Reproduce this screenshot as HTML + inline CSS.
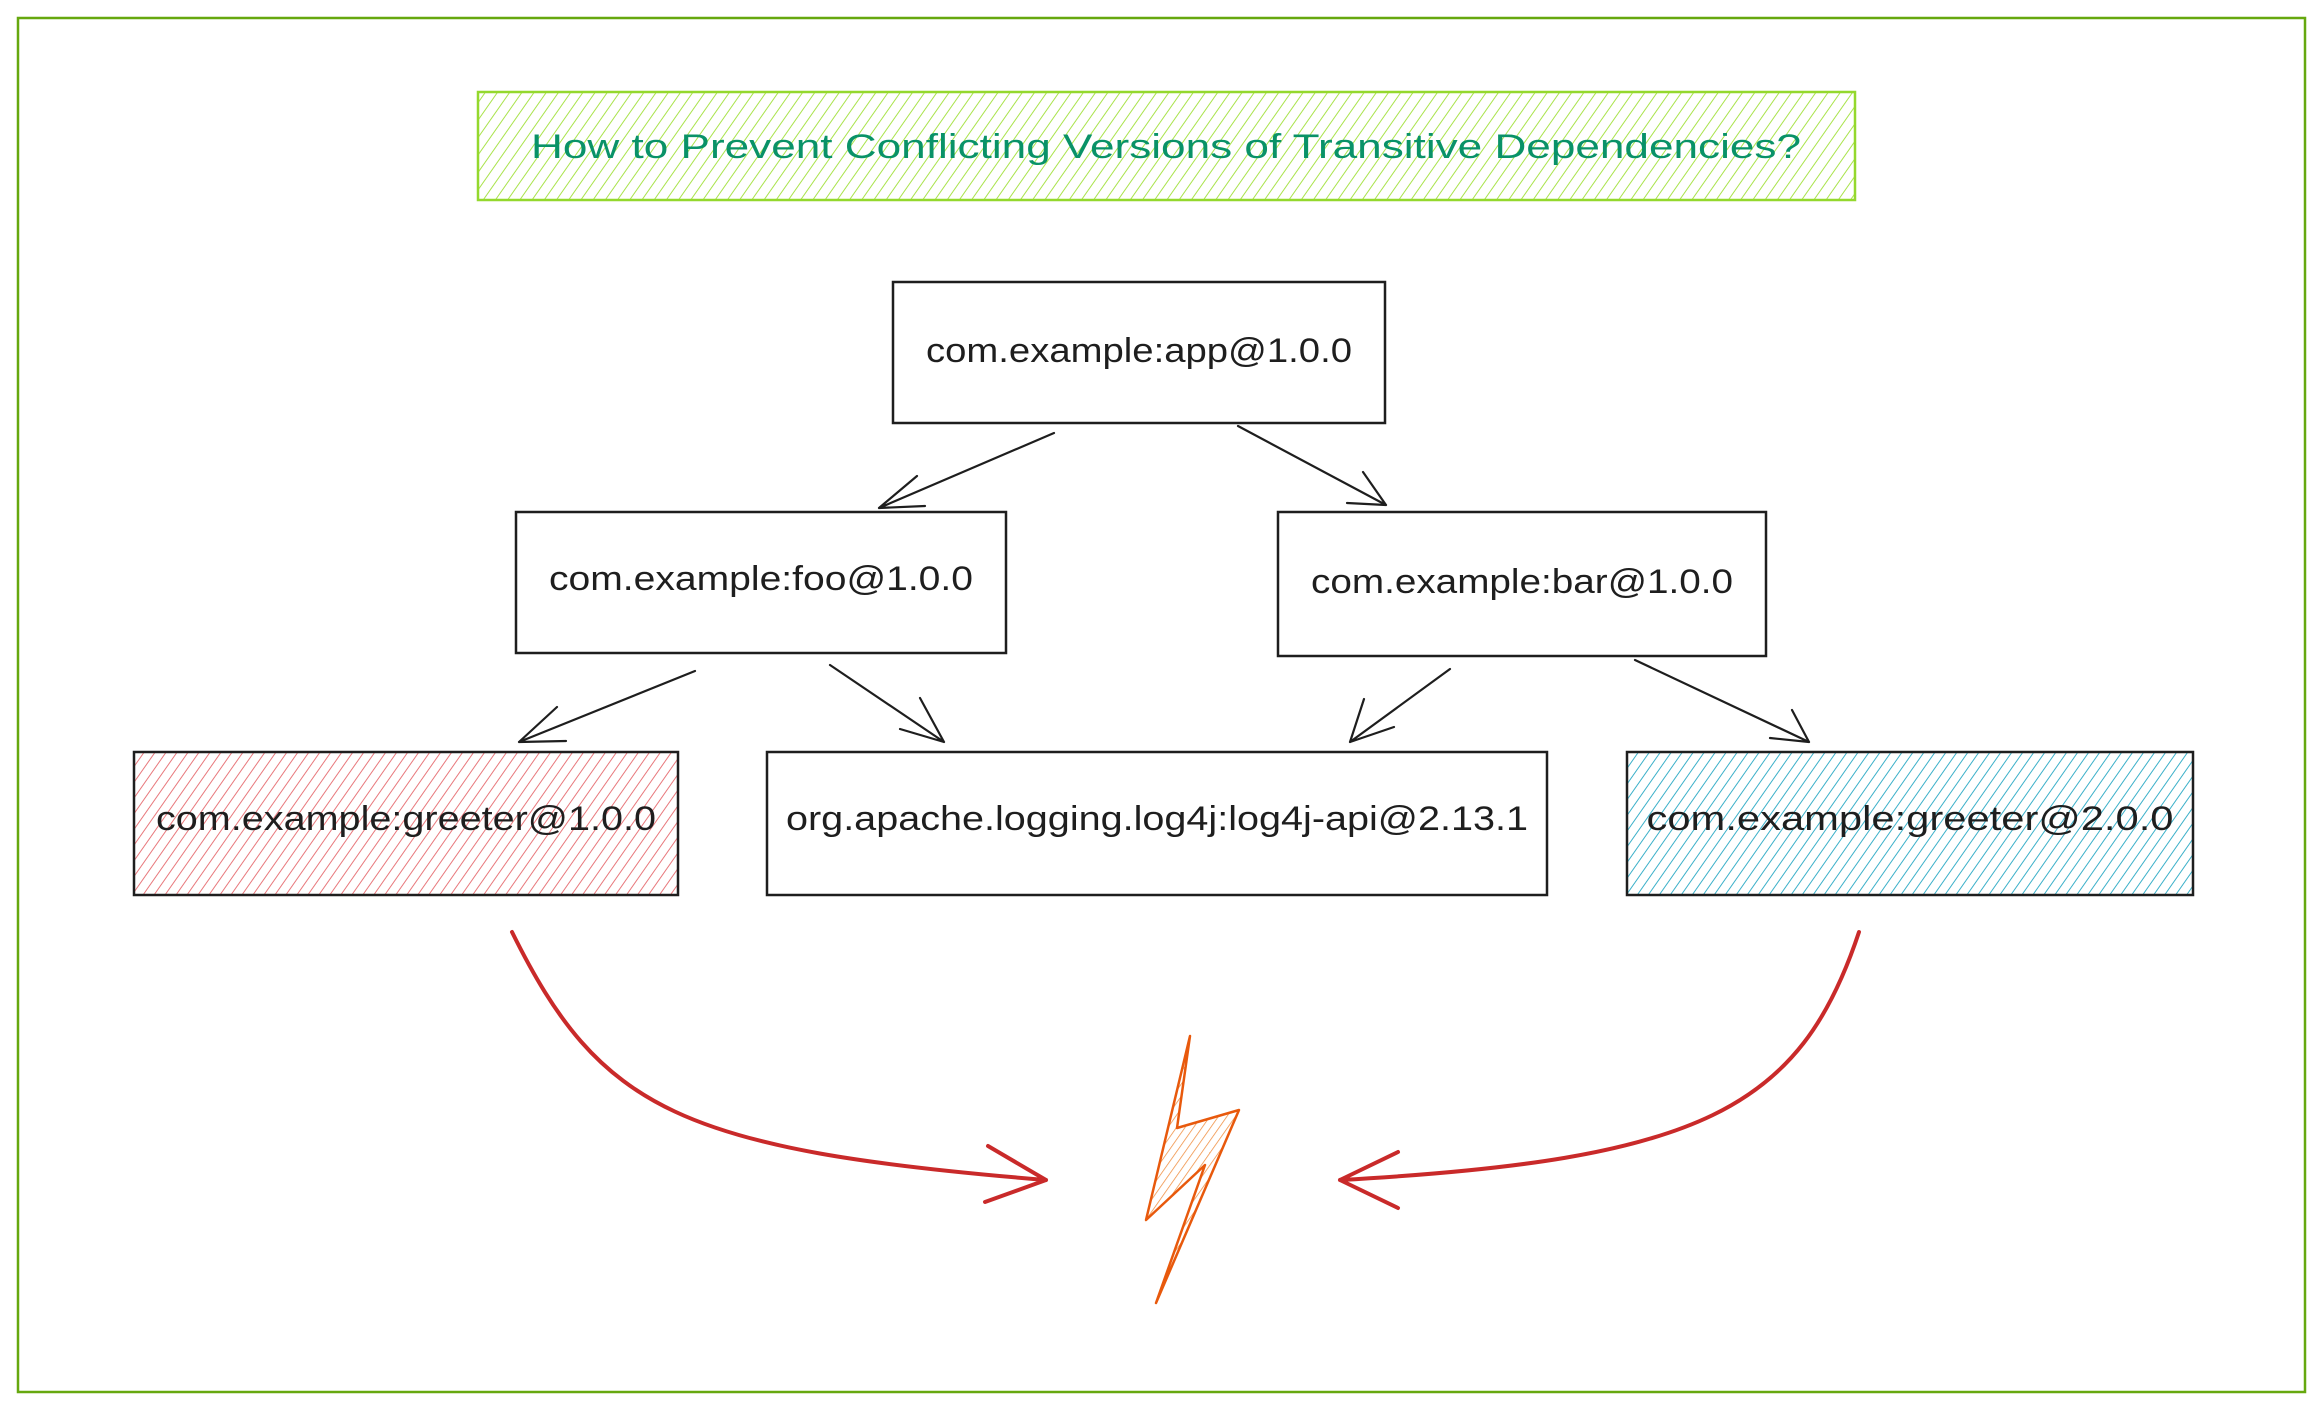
<!DOCTYPE html>
<html><head><style>html,body{margin:0;padding:0;background:#fff}svg{display:block}</style></head>
<body>
<svg width="2323" height="1408" viewBox="0 0 2323 1408" xmlns="http://www.w3.org/2000/svg">
<defs>
<pattern id="hg" width="10" height="10" patternUnits="userSpaceOnUse" patternTransform="rotate(35)"><line x1="0" y1="0" x2="0" y2="10" stroke="#a9e34b" stroke-width="2"/></pattern>
<pattern id="hr" width="9" height="9" patternUnits="userSpaceOnUse" patternTransform="rotate(35)"><line x1="0" y1="0" x2="0" y2="9" stroke="#e8787c" stroke-width="2"/></pattern>
<pattern id="hb" width="9" height="9" patternUnits="userSpaceOnUse" patternTransform="rotate(35)"><line x1="0" y1="0" x2="0" y2="9" stroke="#3bb0c9" stroke-width="2"/></pattern>
<pattern id="ho" width="7" height="7" patternUnits="userSpaceOnUse" patternTransform="rotate(35)"><line x1="0" y1="0" x2="0" y2="7" stroke="#f08c3c" stroke-width="1.5"/></pattern>
</defs>
<rect x="18" y="18" width="2287" height="1374" fill="none" stroke="#66a80f" stroke-width="2.5"/>
<rect x="478" y="92" width="1377" height="108" fill="url(#hg)" stroke="#94d82d" stroke-width="2.5"/>
<text x="1166" y="158" text-anchor="middle" font-family="Liberation Sans, sans-serif" font-size="34" fill="#099268" textLength="1270" lengthAdjust="spacingAndGlyphs">How to Prevent Conflicting Versions of Transitive Dependencies?</text>
<g stroke="#1e1e1e" stroke-width="2.5" fill="none">
<rect x="893" y="282" width="492" height="141" fill="#fff"/>
<rect x="516" y="512" width="490" height="141" fill="#fff"/>
<rect x="1278" y="512" width="488" height="144" fill="#fff"/>
<rect x="134" y="752" width="544" height="143" fill="url(#hr)"/>
<rect x="767" y="752" width="780" height="143" fill="#fff"/>
<rect x="1627" y="752" width="566" height="143" fill="url(#hb)"/>
</g>
<g font-family="Liberation Sans, sans-serif" font-size="34" fill="#1e1e1e" text-anchor="middle">
<text x="1139" y="362" textLength="426" lengthAdjust="spacingAndGlyphs">com.example:app@1.0.0</text>
<text x="761" y="590" textLength="424" lengthAdjust="spacingAndGlyphs">com.example:foo@1.0.0</text>
<text x="1522" y="593" textLength="422" lengthAdjust="spacingAndGlyphs">com.example:bar@1.0.0</text>
<text x="406" y="830" textLength="500" lengthAdjust="spacingAndGlyphs">com.example:greeter@1.0.0</text>
<text x="1157" y="830" textLength="742" lengthAdjust="spacingAndGlyphs">org.apache.logging.log4j:log4j-api@2.13.1</text>
<text x="1910" y="830" textLength="527" lengthAdjust="spacingAndGlyphs">com.example:greeter@2.0.0</text>
</g>
<g stroke="#1e1e1e" stroke-width="2.2" fill="none" stroke-linecap="round">
<path d="M1054 433 L879 508 M879 508 L917 476 M879 508 L925 506"/>
<path d="M1238 426 L1386 505 M1386 505 L1347 503 M1386 505 L1363 472"/>
<path d="M695 671 L519 742 M519 742 L557 707 M519 742 L566 741"/>
<path d="M830 665 L944 742 M944 742 L920 698 M944 742 L900 729"/>
<path d="M1450 669 L1350 742 M1350 742 L1364 699 M1350 742 L1394 727"/>
<path d="M1635 660 L1809 742 M1809 742 L1770 738 M1809 742 L1792 710"/>
</g>
<g stroke="#c92a2a" stroke-width="4" fill="none" stroke-linecap="round">
<path d="M512 932 C600 1110 680 1150 1046 1180 M1046 1180 L988 1146 M1046 1180 L985 1202"/>
<path d="M1859 932 C1800 1110 1700 1160 1340 1180 M1340 1180 L1398 1152 M1340 1180 L1398 1208"/>
</g>
<path d="M1190 1036 L1177 1128 L1239 1110 L1156 1303 L1205 1165 L1146 1220 Z" fill="url(#ho)" stroke="#e8590c" stroke-width="2.5" stroke-linejoin="round"/>
</svg>
</body></html>
